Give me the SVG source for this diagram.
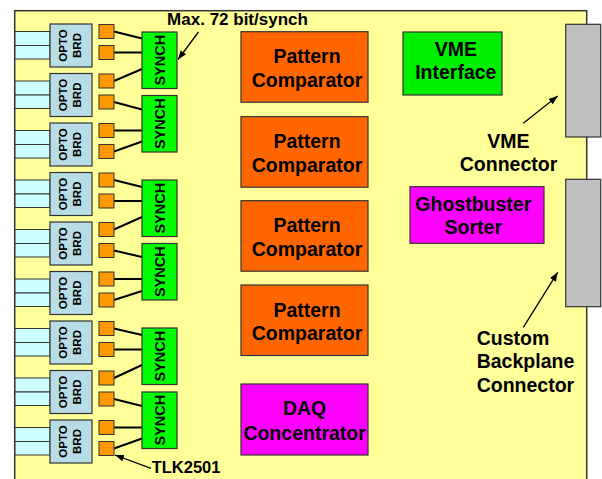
<svg xmlns="http://www.w3.org/2000/svg" width="602" height="479" viewBox="0 0 602 479">
<defs>
<style>
.board{fill:#FFFF99;stroke:#333;stroke-width:1.5}
.fiber{fill:#CCFFFF;stroke:#333;stroke-width:1}
.opto{fill:#B8DDE6;stroke:#333;stroke-width:1.2}
.sq{fill:#FF9900;stroke:#333;stroke-width:1}
.synch{fill:#00FF00;stroke:#333;stroke-width:1.2}
.pc{fill:#FF6600;stroke:#333;stroke-width:1.2}
.mag{fill:#FF00FF;stroke:#333;stroke-width:1.2}
.vme{fill:#00EE00;stroke:#333;stroke-width:1.2}
.conn{fill:#C0C0C0;stroke:#333;stroke-width:1.2}
.link{stroke:#000;stroke-width:2;fill:none}
.arr{stroke:#000;stroke-width:1.3;fill:none;marker-end:url(#ah)}
text{font-family:"Liberation Sans",Arial,sans-serif;font-weight:bold;fill:#000}
.big{font-size:19.5px;text-anchor:middle}
.ot{font-size:11.5px;text-anchor:middle}
.st{font-size:14.5px;text-anchor:middle}
</style>
<marker id="ah" viewBox="0 0 10 10" refX="10" refY="5" markerWidth="9" markerHeight="9" markerUnits="userSpaceOnUse" orient="auto"><path d="M0,1.2 L10,5 L0,8.8z" fill="#000"/></marker>
</defs>
<rect width="602" height="479" fill="#FFFFFF"/>
<rect id="board" class="board" x="14.7" y="10.7" width="572" height="480"/>

<g id="connectors">
<path class="link" d="M114,31.5 L142,38.5 M114,52.5 L142,52.5 M114,81 L142,69"/>
<path class="link" d="M114,102 L142,109.5 M114,130.5 L142,130.5 M114,151.5 L142,141.5"/>
<path class="link" d="M114,180 L142,187 M114,201 L142,201 M114,229.5 L142,217"/>
<path class="link" d="M114,250.5 L142,257 M114,279 L142,279 M114,300 L142,291"/>
<path class="link" d="M114,328.5 L142,335 M114,349.5 L142,349.5 M114,378 L142,365"/>
<path class="link" d="M114,399 L142,406 M114,427.5 L142,427.5 M114,448.5 L142,438.5"/>
<line class="arr" x1="198.5" y1="32" x2="178" y2="59.5"/>
<line class="arr" x1="523.3" y1="123.3" x2="557.7" y2="96"/>
<line class="arr" x1="523.3" y1="327.3" x2="557.7" y2="272.3"/>
<line class="arr" x1="151" y1="468.3" x2="115" y2="455"/>
</g>

<g id="opto0"><rect class="fiber" x="15" y="31.5" width="35" height="14"/><rect class="fiber" x="15" y="45.5" width="35" height="13.5"/><rect class="opto" x="50" y="24" width="42" height="43"/><text class="ot" transform="translate(71,45.5) rotate(-90)" y="-4.3">OPTO</text><text class="ot" transform="translate(71,45.5) rotate(-90)" y="10">BRD</text><rect class="sq" x="99" y="24.5" width="15" height="14"/><rect class="sq" x="99" y="45.5" width="15" height="14"/></g>
<g id="opto1"><rect class="fiber" x="15" y="81" width="35" height="14"/><rect class="fiber" x="15" y="95" width="35" height="13.5"/><rect class="opto" x="50" y="73.5" width="42" height="43"/><text class="ot" transform="translate(71,95) rotate(-90)" y="-4.3">OPTO</text><text class="ot" transform="translate(71,95) rotate(-90)" y="10">BRD</text><rect class="sq" x="99" y="74" width="15" height="14"/><rect class="sq" x="99" y="95" width="15" height="14"/></g>
<g id="opto2"><rect class="fiber" x="15" y="130.5" width="35" height="14"/><rect class="fiber" x="15" y="144.5" width="35" height="13.5"/><rect class="opto" x="50" y="123" width="42" height="43"/><text class="ot" transform="translate(71,144.5) rotate(-90)" y="-4.3">OPTO</text><text class="ot" transform="translate(71,144.5) rotate(-90)" y="10">BRD</text><rect class="sq" x="99" y="123.5" width="15" height="14"/><rect class="sq" x="99" y="144.5" width="15" height="14"/></g>
<g id="opto3"><rect class="fiber" x="15" y="180" width="35" height="14"/><rect class="fiber" x="15" y="194" width="35" height="13.5"/><rect class="opto" x="50" y="172.5" width="42" height="43"/><text class="ot" transform="translate(71,194) rotate(-90)" y="-4.3">OPTO</text><text class="ot" transform="translate(71,194) rotate(-90)" y="10">BRD</text><rect class="sq" x="99" y="173" width="15" height="14"/><rect class="sq" x="99" y="194" width="15" height="14"/></g>
<g id="opto4"><rect class="fiber" x="15" y="229.5" width="35" height="14"/><rect class="fiber" x="15" y="243.5" width="35" height="13.5"/><rect class="opto" x="50" y="222" width="42" height="43"/><text class="ot" transform="translate(71,243.5) rotate(-90)" y="-4.3">OPTO</text><text class="ot" transform="translate(71,243.5) rotate(-90)" y="10">BRD</text><rect class="sq" x="99" y="222.5" width="15" height="14"/><rect class="sq" x="99" y="243.5" width="15" height="14"/></g>
<g id="opto5"><rect class="fiber" x="15" y="279" width="35" height="14"/><rect class="fiber" x="15" y="293" width="35" height="13.5"/><rect class="opto" x="50" y="271.5" width="42" height="43"/><text class="ot" transform="translate(71,293) rotate(-90)" y="-4.3">OPTO</text><text class="ot" transform="translate(71,293) rotate(-90)" y="10">BRD</text><rect class="sq" x="99" y="272" width="15" height="14"/><rect class="sq" x="99" y="293" width="15" height="14"/></g>
<g id="opto6"><rect class="fiber" x="15" y="328.5" width="35" height="14"/><rect class="fiber" x="15" y="342.5" width="35" height="13.5"/><rect class="opto" x="50" y="321" width="42" height="43"/><text class="ot" transform="translate(71,342.5) rotate(-90)" y="-4.3">OPTO</text><text class="ot" transform="translate(71,342.5) rotate(-90)" y="10">BRD</text><rect class="sq" x="99" y="321.5" width="15" height="14"/><rect class="sq" x="99" y="342.5" width="15" height="14"/></g>
<g id="opto7"><rect class="fiber" x="15" y="378" width="35" height="14"/><rect class="fiber" x="15" y="392" width="35" height="13.5"/><rect class="opto" x="50" y="370.5" width="42" height="43"/><text class="ot" transform="translate(71,392) rotate(-90)" y="-4.3">OPTO</text><text class="ot" transform="translate(71,392) rotate(-90)" y="10">BRD</text><rect class="sq" x="99" y="371" width="15" height="14"/><rect class="sq" x="99" y="392" width="15" height="14"/></g>
<g id="opto8"><rect class="fiber" x="15" y="427.5" width="35" height="14"/><rect class="fiber" x="15" y="441.5" width="35" height="13.5"/><rect class="opto" x="50" y="420" width="42" height="43"/><text class="ot" transform="translate(71,441.5) rotate(-90)" y="-4.3">OPTO</text><text class="ot" transform="translate(71,441.5) rotate(-90)" y="10">BRD</text><rect class="sq" x="99" y="420.5" width="15" height="14"/><rect class="sq" x="99" y="441.5" width="15" height="14"/></g>

<g id="synch1"><rect class="synch" x="142" y="32" width="35" height="56.5"/><text class="st" transform="translate(159.5,60.2) rotate(-90)" y="5.2">SYNCH</text></g>
<g id="synch2"><rect class="synch" x="142" y="95.5" width="35" height="56.5"/><text class="st" transform="translate(159.5,123.7) rotate(-90)" y="5.2">SYNCH</text></g>
<g id="synch3"><rect class="synch" x="142" y="180" width="35" height="56.5"/><text class="st" transform="translate(159.5,208.2) rotate(-90)" y="5.2">SYNCH</text></g>
<g id="synch4"><rect class="synch" x="142" y="243.5" width="35" height="56.5"/><text class="st" transform="translate(159.5,271.7) rotate(-90)" y="5.2">SYNCH</text></g>
<g id="synch5"><rect class="synch" x="142" y="328" width="35" height="56.5"/><text class="st" transform="translate(159.5,356.2) rotate(-90)" y="5.2">SYNCH</text></g>
<g id="synch6"><rect class="synch" x="142" y="392" width="35" height="56.5"/><text class="st" transform="translate(159.5,420.2) rotate(-90)" y="5.2">SYNCH</text></g>

<g id="pc1"><rect class="pc" x="241" y="31.7" width="127" height="70.5"/><text class="big" x="307" y="63.3">Pattern</text><text class="big" x="307" y="86.7">Comparator</text></g>
<g id="pc2"><rect class="pc" x="241" y="116.7" width="127" height="70.5"/><text class="big" x="307" y="148.3">Pattern</text><text class="big" x="307" y="171.7">Comparator</text></g>
<g id="pc3"><rect class="pc" x="241" y="200.7" width="127" height="70.5"/><text class="big" x="307" y="232.3">Pattern</text><text class="big" x="307" y="255.7">Comparator</text></g>
<g id="pc4"><rect class="pc" x="241" y="285" width="127" height="70.5"/><text class="big" x="307" y="316.6">Pattern</text><text class="big" x="307" y="340">Comparator</text></g>
<g id="daq"><rect class="mag" x="241" y="384" width="127" height="71"/><text class="big" x="304.6" y="415.3">DAQ</text><text class="big" x="304.6" y="440">Concentrator</text></g>

<g id="vmeif"><rect class="vme" x="403" y="32" width="99" height="63"/><text class="big" x="455.8" y="56">VME</text><text class="big" x="455.8" y="79">Interface</text></g>
<g id="ghost"><rect class="mag" x="410" y="186.7" width="134" height="56.6"/><text class="big" x="473.3" y="210.7">Ghostbuster</text><text class="big" x="473.3" y="234.3">Sorter</text></g>

<g id="vmeconn"><rect class="conn" x="565.7" y="24.3" width="35" height="112.7"/></g>
<g id="bpconn"><rect class="conn" x="565.7" y="179.3" width="35" height="127.4"/></g>

<g id="labels">
<text x="237.5" y="25" style="font-size:17px;text-anchor:middle">Max. 72 bit/synch</text>
<text class="big" x="508.5" y="147.7">VME</text>
<text class="big" x="508.5" y="170.7">Connector</text>
<text x="476.7" y="345" style="font-size:19.5px">Custom</text>
<text x="476.7" y="368.3" style="font-size:19.5px">Backplane</text>
<text x="476.7" y="391.7" style="font-size:19.5px">Connector</text>
<text x="151.7" y="473.3" style="font-size:16.5px">TLK2501</text>
</g>
</svg>
